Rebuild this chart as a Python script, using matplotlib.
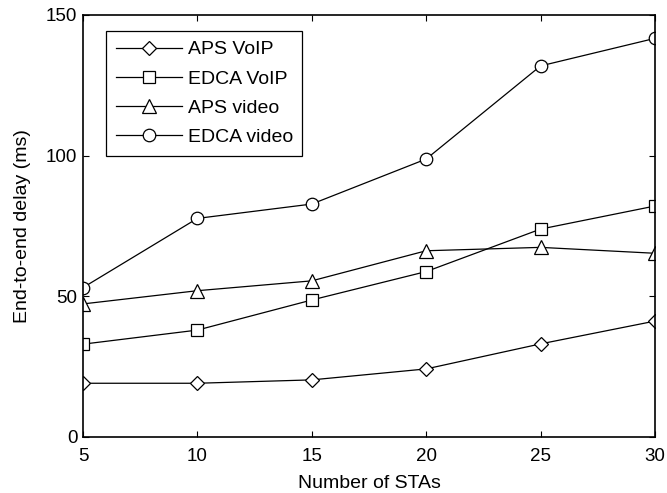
import matplotlib
matplotlib.use("Agg")
import matplotlib.pyplot as plt

plt.rcParams['font.family'] = ['Liberation Sans', 'DejaVu Sans']

x = [5, 10, 15, 20, 25, 30]
aps_voip = [19.1, 19.1, 20.3, 24.2, 33.1, 41.2]
edca_voip = [33.0, 38.0, 48.7, 58.8, 73.9, 82.1]
aps_video = [47.3, 52.0, 55.5, 66.2, 67.4, 65.3]
edca_video = [53.1, 77.7, 82.8, 98.8, 131.9, 141.7]
labels = ['APS VoIP', 'EDCA VoIP', 'APS video', 'EDCA video']

fig = plt.figure(figsize=(6.67, 4.93), dpi=100)
ax = fig.add_axes([0.1244, 0.1136, 0.982 - 0.1244, 0.9696 - 0.1136])

common = dict(color='black', lw=0.9, mfc='white', mec='black', mew=0.9)
ax.plot(x, aps_voip, marker='D', ms=7.3, label=labels[0], **common)
ax.plot(x, edca_voip, marker='s', ms=9, label=labels[1], **common)
ax.plot(x, aps_video, marker='^', ms=9.5, label=labels[2], **common)
ax.plot(x, edca_video, marker='o', ms=9, label=labels[3], **common)

ax.set_xlim(5, 30)
ax.set_ylim(0, 150)
ax.set_xticks([5, 10, 15, 20, 25, 30])
ax.set_yticks([0, 50, 100, 150])
ax.tick_params(direction='in', top=True, right=True, labelsize=13.5, length=4, width=0.8)
ax.tick_params(axis='x', pad=8)
ax.tick_params(axis='y', pad=4)
for s in ax.spines.values():
    s.set_linewidth(1.2)
ax.set_xlabel('Number of STAs', fontsize=14, labelpad=7)
ax.set_ylabel('End-to-end delay (ms)', fontsize=14, labelpad=10.5)

leg = ax.legend(loc='upper left', bbox_to_anchor=(0.040, 0.962), fontsize=14,
                fancybox=False, edgecolor='black', framealpha=1,
                handlelength=3.4, borderpad=0.5, labelspacing=0.6,
                handletextpad=0.3, borderaxespad=0)
leg.get_frame().set_linewidth(0.9)

fig.savefig('out.png', dpi=100)
